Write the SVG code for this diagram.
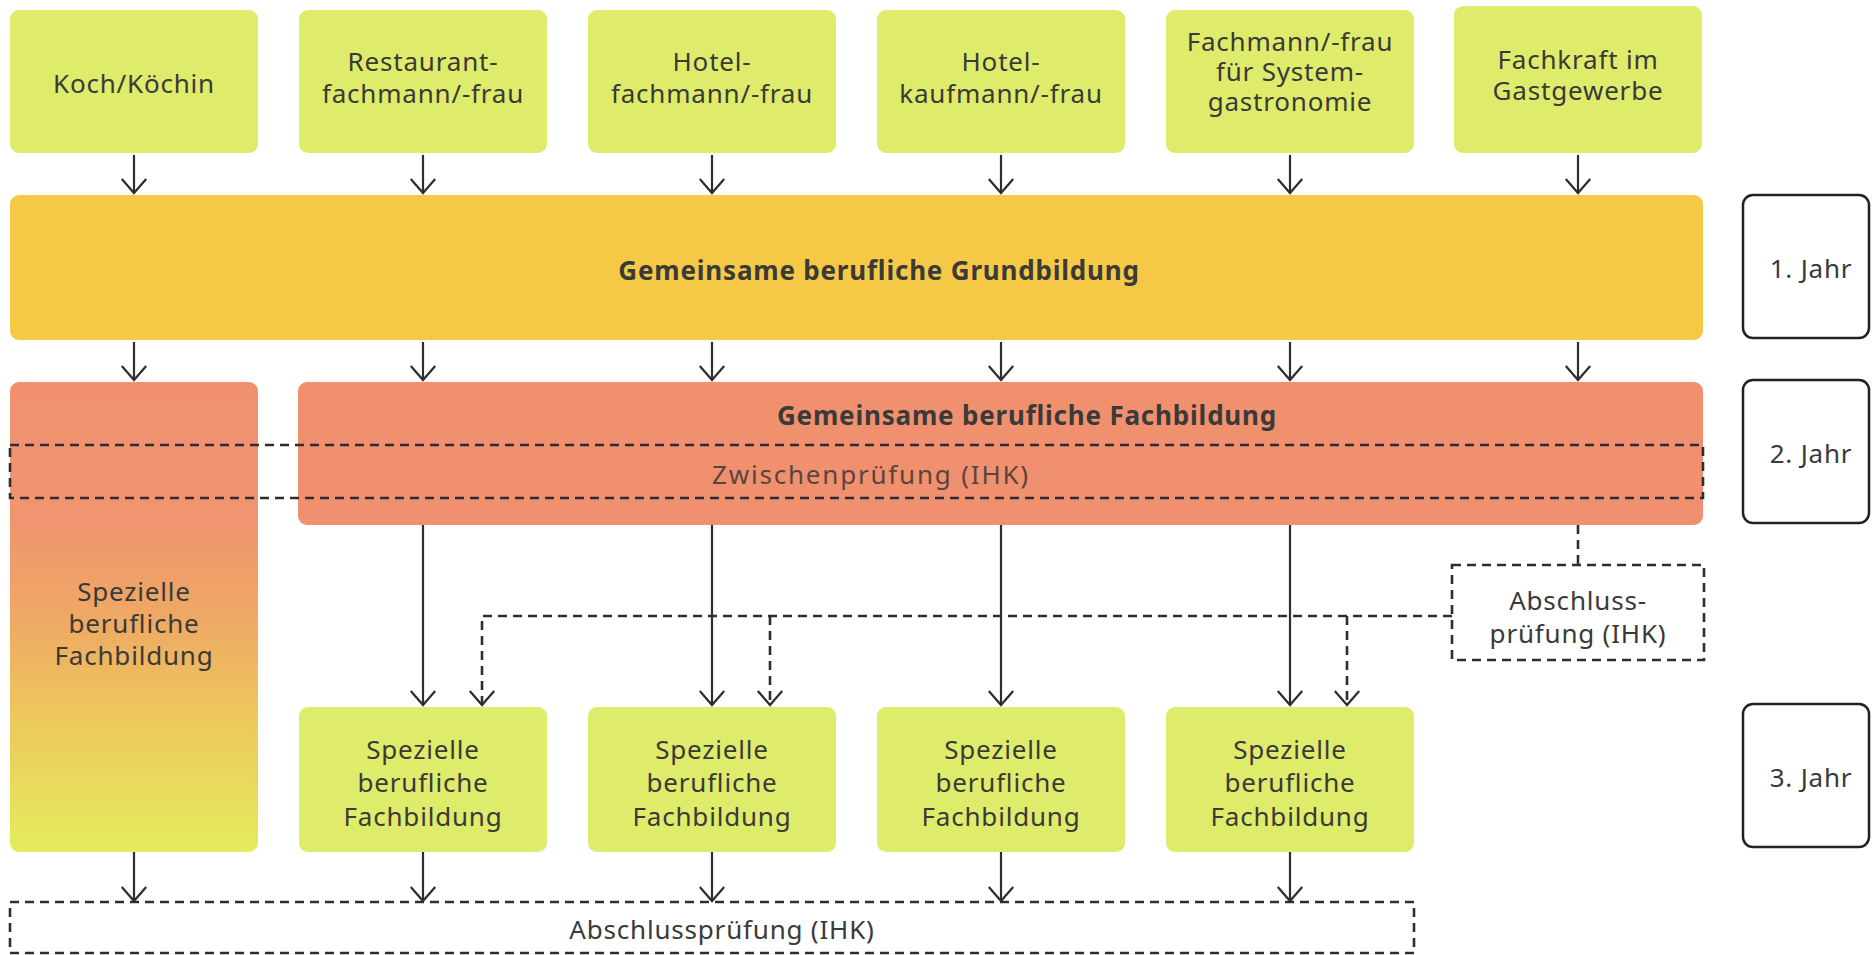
<svg xmlns="http://www.w3.org/2000/svg" width="1872" height="955" viewBox="0 0 1872 955">
<defs>
<style>
.lime{fill:#DEEB6B}
.t{font-family:"Noto Sans","Open Sans",sans-serif;font-size:26px;letter-spacing:0.8px;fill:#3a3a38;text-anchor:middle}
.b{font-weight:bold}
.ln{stroke:#2e2e2e;stroke-width:2.2;fill:none}
.ds{stroke:#2e2e2e;stroke-width:2.6;fill:none;stroke-dasharray:9 6}
.yr{fill:#fff;stroke:#222;stroke-width:2.5}
</style>
<marker id="ah" markerUnits="userSpaceOnUse" orient="auto" refX="0" refY="0" markerWidth="30" markerHeight="30" viewBox="-16 -16 32 32" overflow="visible">
<path d="M-15,-13 L0,0 L-15,13" fill="none" stroke="#2e2e2e" stroke-width="2.4"/>
</marker>
<linearGradient id="tall" x1="0" y1="0" x2="0" y2="1">
<stop offset="0" stop-color="#F0906F"/>
<stop offset="0.3" stop-color="#F09570"/>
<stop offset="0.5" stop-color="#EFA865"/>
<stop offset="0.72" stop-color="#ECC95C"/>
<stop offset="1" stop-color="#E3EC5C"/>
</linearGradient>
</defs>
<rect width="1872" height="955" fill="#fff"/>

<g id="koch"><rect class="lime" x="10" y="10" width="248" height="143" rx="9"/><text class="t" x="134" y="93">Koch/Köchin</text></g>
<g id="restaurant"><rect class="lime" x="299" y="10" width="248" height="143" rx="9"/><text class="t" x="423" y="71">Restaurant-</text><text class="t" x="423" y="103">fachmann/-frau</text></g>
<g id="hotelfach"><rect class="lime" x="588" y="10" width="248" height="143" rx="9"/><text class="t" x="712" y="71">Hotel-</text><text class="t" x="712" y="103">fachmann/-frau</text></g>
<g id="hotelkauf"><rect class="lime" x="877" y="10" width="248" height="143" rx="9"/><text class="t" x="1001" y="71">Hotel-</text><text class="t" x="1001" y="103">kaufmann/-frau</text></g>
<g id="system"><rect class="lime" x="1166" y="10" width="248" height="143" rx="9"/><text class="t" x="1290" y="51">Fachmann/-frau</text><text class="t" x="1290" y="81">für System-</text><text class="t" x="1290" y="111">gastronomie</text></g>
<g id="fachkraft"><rect class="lime" x="1454" y="6" width="248" height="147" rx="9"/><text class="t" x="1578" y="69">Fachkraft im</text><text class="t" x="1578" y="100">Gastgewerbe</text></g>

<g id="grundbildung"><rect x="10" y="195" width="1693" height="145" rx="9" fill="#F5C946"/><text class="t b" x="879" y="280">Gemeinsame berufliche Grundbildung</text></g>

<g id="spez-koch"><rect x="10" y="382" width="248" height="470" rx="9" fill="url(#tall)"/><text class="t" x="134" y="601">Spezielle</text><text class="t" x="134" y="633">berufliche</text><text class="t" x="134" y="665">Fachbildung</text></g>

<g id="fachbildung"><rect x="298" y="382" width="1405" height="143" rx="9" fill="#F0906F"/><text class="t b" x="1027" y="425">Gemeinsame berufliche Fachbildung</text></g>

<g id="zwischen"><rect class="ds" x="10" y="445" width="1693" height="53"/><text class="t" x="871" y="484" style="fill:#5a4540;letter-spacing:1.8px">Zwischenprüfung (IHK)</text></g>

<g id="abschluss-kurz"><rect class="ds" x="1452" y="565" width="252" height="95"/><text class="t" x="1578" y="610">Abschluss-</text><text class="t" x="1578" y="643">prüfung (IHK)</text></g>

<g id="spez1"><rect class="lime" x="299" y="707" width="248" height="145" rx="9"/><text class="t" x="423" y="759">Spezielle</text><text class="t" x="423" y="792">berufliche</text><text class="t" x="423" y="826">Fachbildung</text></g>
<g id="spez2"><rect class="lime" x="588" y="707" width="248" height="145" rx="9"/><text class="t" x="712" y="759">Spezielle</text><text class="t" x="712" y="792">berufliche</text><text class="t" x="712" y="826">Fachbildung</text></g>
<g id="spez3"><rect class="lime" x="877" y="707" width="248" height="145" rx="9"/><text class="t" x="1001" y="759">Spezielle</text><text class="t" x="1001" y="792">berufliche</text><text class="t" x="1001" y="826">Fachbildung</text></g>
<g id="spez4"><rect class="lime" x="1166" y="707" width="248" height="145" rx="9"/><text class="t" x="1290" y="759">Spezielle</text><text class="t" x="1290" y="792">berufliche</text><text class="t" x="1290" y="826">Fachbildung</text></g>

<g id="abschluss"><rect class="ds" x="10" y="902" width="1404" height="51"/><text class="t" x="722" y="939">Abschlussprüfung (IHK)</text></g>

<g id="jahr1"><rect class="yr" x="1743" y="195" width="126" height="143" rx="10"/><text class="t" x="1811" y="278">1. Jahr</text></g>
<g id="jahr2"><rect class="yr" x="1743" y="380" width="126" height="143" rx="10"/><text class="t" x="1811" y="463">2. Jahr</text></g>
<g id="jahr3"><rect class="yr" x="1743" y="704" width="126" height="143" rx="10"/><text class="t" x="1811" y="787">3. Jahr</text></g>

<g id="connectors">
<path class="ln" marker-end="url(#ah)" d="M134,155 V193"/>
<path class="ln" marker-end="url(#ah)" d="M423,155 V193"/>
<path class="ln" marker-end="url(#ah)" d="M712,155 V193"/>
<path class="ln" marker-end="url(#ah)" d="M1001,155 V193"/>
<path class="ln" marker-end="url(#ah)" d="M1290,155 V193"/>
<path class="ln" marker-end="url(#ah)" d="M1578,155 V193"/>
<path class="ln" marker-end="url(#ah)" d="M134,342 V380"/>
<path class="ln" marker-end="url(#ah)" d="M423,342 V380"/>
<path class="ln" marker-end="url(#ah)" d="M712,342 V380"/>
<path class="ln" marker-end="url(#ah)" d="M1001,342 V380"/>
<path class="ln" marker-end="url(#ah)" d="M1290,342 V380"/>
<path class="ln" marker-end="url(#ah)" d="M1578,342 V380"/>
<path class="ln" marker-end="url(#ah)" d="M423,525 V705"/>
<path class="ln" marker-end="url(#ah)" d="M712,525 V705"/>
<path class="ln" marker-end="url(#ah)" d="M1001,525 V705"/>
<path class="ln" marker-end="url(#ah)" d="M1290,525 V705"/>
<path class="ds" d="M1578,525 V565"/>
<path class="ds" marker-end="url(#ah)" d="M1452,616 H482 V705"/>
<path class="ds" marker-end="url(#ah)" d="M770,616 V705"/>
<path class="ds" marker-end="url(#ah)" d="M1347,616 V705"/>
<path class="ln" marker-end="url(#ah)" d="M134,852 V901"/>
<path class="ln" marker-end="url(#ah)" d="M423,852 V901"/>
<path class="ln" marker-end="url(#ah)" d="M712,852 V901"/>
<path class="ln" marker-end="url(#ah)" d="M1001,852 V901"/>
<path class="ln" marker-end="url(#ah)" d="M1290,852 V901"/>
</g>
</svg>
